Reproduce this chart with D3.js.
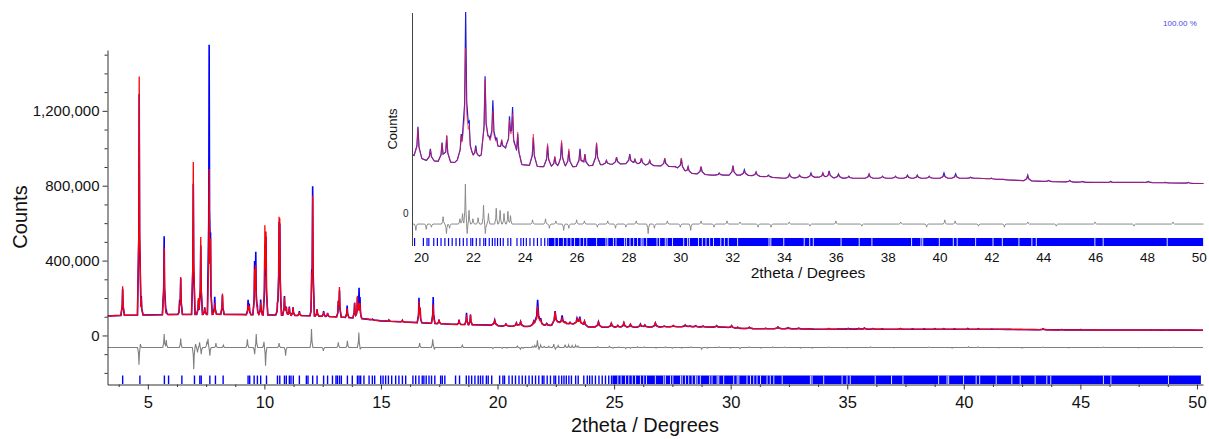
<!DOCTYPE html>
<html>
<head>
<meta charset="utf-8">
<script src="https://cdn.jsdelivr.net/npm/d3@7"></script>
<style>
  body { margin: 0; background: #fff; }
  text { font-family: "Liberation Sans", Arial, sans-serif; }
</style>
</head>
<body>
<svg id="chart" width="1209" height="439"></svg>
<script>
// ---- data (2theta in degrees, counts in thousands) ----
var bgPos = [3.27, 4.0, 5.0, 6.0, 8.0, 9.0, 10.0, 11.0, 12.0, 13.0, 13.6, 14.2, 14.6, 15.0, 16.0, 17.0, 18.0, 19.0, 19.7, 20.2,
             21.3, 21.6, 22.2, 22.6, 23.0, 23.3, 23.6, 23.9, 24.6, 25.9, 27.0, 28.0, 29.0, 29.8, 30.3, 31.2, 32.5, 34.0, 35.3, 36.5,
             38.0, 40.0, 41.5, 43.0, 44.0, 46.0, 48.0, 50.26];
var bgK = [104, 108, 110, 112, 113, 112, 110, 108, 105, 100, 96, 90, 84, 78, 72, 66, 60, 57, 55, 50,
           48, 55, 53, 60, 60, 62, 55, 46, 44, 44, 46, 47, 45, 44, 38, 36, 36, 33, 34, 33,
           33, 33, 33, 31, 30, 29, 29, 28];

var peakPos = [3.92, 4.63, 4.72, 5.70, 5.79, 6.36, 6.41, 6.95, 7.17, 7.27, 7.44, 7.63, 7.69, 7.87, 8.20, 9.30, 9.35, 9.58, 9.63, 9.70,
               9.84, 10.02, 10.07, 10.56, 10.63, 10.66, 10.86, 10.94, 11.07, 11.23, 11.50, 12.03, 12.07, 12.26, 12.54, 12.71, 13.17, 13.22, 13.55, 13.87,
               13.99, 14.06, 14.10, 14.63, 15.34, 15.92, 16.63, 16.68, 17.24, 17.49, 18.35, 18.67, 18.84, 19.88,
               20.36, 20.81, 20.99, 21.55, 21.72, 21.86, 22.11, 22.47, 22.62, 22.77, 22.92, 23.11, 23.41, 23.53, 23.73, 24.33, 24.88, 25.16, 25.42, 25.70,
               26.13, 26.32, 26.77, 27.15, 27.54, 28.05, 28.25, 28.50, 28.82, 29.40, 30.04, 30.30, 30.80, 31.50, 32.03, 32.47, 32.92, 33.40, 34.21, 34.60,
               35.04, 35.50, 35.74, 36.10, 36.50, 37.28, 37.80, 38.30, 38.76, 39.14, 39.60, 40.17, 40.62, 41.20, 42.00, 42.47, 43.40, 44.20, 45.02, 45.50,
               46.60, 47.30, 48.05, 48.70, 49.60];
var obsK = [250, 1290, 210, 530, 140, 150, 300, 810, 190, 480, 150, 1525, 420, 206, 215, 183, 160, 352, 409, 150,
            192, 430, 480, 165, 500, 490, 210, 155, 155, 150, 130, 206, 775, 140, 130, 120, 165, 230, 160, 175,
            200, 233, 175, 87, 82, 80, 192, 130, 206, 85, 85, 121, 110, 82,
            61, 67, 73, 75, 190, 83, 64, 130, 73, 107, 71, 69, 88, 98, 75, 72, 64, 53, 67, 59,
            61, 56, 66, 50, 53, 56, 51, 52, 50, 52, 52, 44, 44, 38, 45, 41, 39, 36, 37, 36,
            38, 38, 40, 37, 35, 37, 35, 35, 36, 36, 35, 38, 37, 34, 33, 32, 36, 31, 31, 30,
            30, 29, 30, 29, 29];
var calcK = [263, 1383, 200, 470, 125, 140, 308, 926, 200, 526, 145, 858, 450, 176, 224, 160, 150, 320, 345, 140,
             176, 530, 491, 160, 521, 512, 205, 150, 150, 150, 125, 190, 729, 140, 125, 120, 160, 249, 145, 175,
             210, 155, 160, 85, 82, 80, 174, 130, 165, 85, 82, 110, 113, 80,
             60, 66, 74, 73, 156, 80, 62, 126, 72, 97, 70, 70, 85, 92, 77, 75, 66, 54, 69, 61,
             58, 55, 67, 50, 53, 55, 51, 52, 50, 52, 52, 44, 44, 38, 44, 40, 39, 36, 37, 36,
             37, 38, 39, 37, 35, 37, 35, 35, 36, 36, 35, 36, 36, 34, 33, 32, 36, 31, 31, 30,
             30, 29, 30, 29, 29];

// difference (obs - calc) spikes
var diffPos = [4.62, 4.68, 5.70, 5.79, 6.41, 6.97, 7.05, 7.13, 7.22, 7.29, 7.53, 7.58, 7.66, 7.92, 8.24, 9.27, 9.58, 9.65, 9.98, 10.05,
               10.63, 10.91, 12.02, 12.53, 13.17, 13.56, 14.05, 14.11, 16.66, 17.22, 17.29, 18.49, 19.80, 20.20, 20.40, 20.85, 20.98, 21.10, 21.50, 21.60,
               21.71, 21.78, 21.85, 22.00, 22.20, 22.41, 22.48, 22.60, 22.90, 23.05, 23.20, 23.35, 23.45, 24.30, 24.80, 24.95, 25.20, 25.50, 25.70, 26.00,
               26.30, 26.80, 27.20, 27.50, 27.90, 28.30, 28.76, 29.00, 29.50, 30.00, 30.40, 30.80, 31.30, 31.80, 32.30, 33.00, 33.50, 34.20, 35.00, 36.00,
               37.00, 38.50, 39.50, 40.20, 40.60, 41.50, 42.50, 43.40, 44.50, 46.00, 47.50, 49.00];
var diffK = [-92, 18, 71, 40, 48, -116, 18, -27, 27, -36, 27, 44, -44, 23, 12, 44, -36, 71, 30, -98,
             23, -44, 98, -18, 27, 36, 80, -10, 23, 44, -8, 12, -6, -5, -3, 7, -9, -4, 5, 10,
             38, -9, 13, 5, 6, 18, -9, 10, 15, 13, 10, 12, 8, 4, 5, -4, 3, -6, -4, 4,
             3, -3, 3, -4, -3, 3, -9, -4, 3, -3, -6, 3, -3, 3, 2, -3, -3, 2, -2, 3,
             -2, 2, -3, 4, 3, -2, -3, 2, -2, 2, -2, 2];

// reflection positions that can be told apart, then the dense band and its gaps
var reflPos = [3.92, 4.66, 5.71, 5.89, 6.46, 7.00, 7.23, 7.29, 7.66, 7.90, 8.23, 9.30, 9.37, 9.56, 9.70, 9.84, 10.09, 10.56, 10.66, 10.86,
               10.94, 11.07, 11.14, 11.24, 11.50, 11.80, 11.87, 12.07, 12.26, 12.54, 12.71, 12.92, 13.07, 13.13, 13.22, 13.30, 13.56, 13.77, 13.99, 14.06,
               14.13, 14.27, 14.49, 14.63, 14.73, 14.99, 15.09, 15.20, 15.32, 15.46, 15.63, 15.77, 15.92, 16.06, 16.37, 16.49, 16.63, 16.77, 16.84, 16.94,
               17.06, 17.17, 17.31, 17.56, 17.63, 17.74, 18.20, 18.37, 18.66, 18.77, 18.89, 19.03, 19.17, 19.27, 19.37, 19.52, 19.60, 19.75, 20.09, 20.23,
               20.30, 20.49, 20.63, 20.77, 20.92, 21.06, 21.20, 21.35, 21.49, 21.63, 21.77, 21.92, 21.99, 22.13, 22.27, 22.42, 22.49, 22.63, 22.75, 22.85,
               22.95, 23.06, 23.17, 23.35, 23.46, 23.70, 23.85, 23.95, 24.06, 24.20, 24.35, 24.49, 24.63, 24.77, 24.89];
var reflBand = [24.93, 50.17];
var reflGaps = [25.16, 25.30, 25.49, 25.63, 25.78, 25.92, 26.13, 26.27, 26.39, 26.77, 27.13, 27.20, 27.42, 27.52, 27.85, 27.92, 28.06, 28.20, 28.35, 28.49,
                28.56, 28.70, 29.10, 29.20, 29.42, 29.49, 29.70, 30.13, 30.28, 30.35, 30.70, 30.85, 30.99, 31.13, 31.28, 31.56, 31.70, 31.85, 32.21, 33.42,
                33.49, 33.99, 34.78, 34.99, 35.13, 36.20, 36.90, 37.39, 38.92, 39.28, 39.35, 39.99, 40.53, 40.68, 41.39, 42.06, 42.42, 43.06, 43.56, 43.73,
                45.99, 46.31, 48.78];

var xTicksMain = [5, 10, 15, 20, 25, 30, 35, 40, 45, 50];
var yTicksMain = [0, 400000, 800000, 1200000];
var xTicksInset = [20, 22, 24, 26, 28, 30, 32, 34, 36, 38, 40, 42, 44, 46, 48, 50];

// ---- layout ----
var diffOffsetMain = -64;   // thousands
var diffOffsetInset = -10.5;
var dw = 0.06, ds = 0.02;   // diff spike half widths

// sharp peaks at low angle, broader bumps higher up
function peakW(p) { return p < 19.5 ? 0.075 : 0.15; }
function peakS(p) { return p < 19.5 ? 0.018 : 0.04; }

var svg = d3.select('#chart');

function shape(d, w, s, sh) {
  d = Math.abs(d);
  if (d >= w) return 0;
  if (d <= s) return 1 - (1 - sh) * d / s;
  return sh * (w - d) / (w - s);
}

var bg = d3.scaleLinear().domain(bgPos).range(bgK);

// vertices of the profile: background knots plus each peak's corners
var xs = bgPos.slice();
peakPos.forEach(function(p){
  var w = peakW(p), s = peakS(p);
  [-w, -s, 0, s, w].forEach(function(o){ xs.push(+(p + o).toFixed(4)); });
});
xs = Array.from(new Set(xs)).sort(d3.ascending);

var profile = xs.map(function(x){
  var o = bg(x), c = bg(x);
  peakPos.forEach(function(p, i){
    var k = shape(x - p, peakW(p), peakS(p), 0.35);
    if (k > 0) {
      o += (obsK[i] - bg(p)) * k;
      c += (calcK[i] - bg(p)) * k;
    }
  });
  return {x: x, obs: o * 1000, calc: c * 1000};
});

var dxs = [3.27, 50.26];
diffPos.forEach(function(p){
  [-dw, -ds, 0, ds, dw].forEach(function(o){ dxs.push(+(p + o).toFixed(4)); });
});
dxs = Array.from(new Set(dxs)).sort(d3.ascending);
var diffLine = dxs.map(function(x){
  var v = 0;
  diffPos.forEach(function(p, i){ v += diffK[i] * shape(x - p, dw, ds, 0.35); });
  return {x: x, d: v * 1000};
});

// ---- main chart ----
var xMain = d3.scaleLinear().domain([3.27, 50.26]).range([107.5, 1203]);
var yMain = d3.scaleLinear().domain([-262000, 1525000]).range([384.5, 50]);

svg.append('clipPath').attr('id', 'clipMain')
   .append('rect').attr('x', 107.5).attr('y', 40).attr('width', 1096).attr('height', 345);

var gMain = svg.append('g').attr('clip-path', 'url(#clipMain)');

gMain.append('path').datum(profile)
     .attr('fill', 'none').attr('stroke', '#0000ff').attr('stroke-width', 1.6)
     .attr('d', d3.line().x(function(d){ return xMain(d.x); }).y(function(d){ return yMain(d.obs); }));
gMain.append('path').datum(profile)
     .attr('fill', 'none').attr('stroke', '#ff0000').attr('stroke-width', 1.3)
     .attr('d', d3.line().x(function(d){ return xMain(d.x); }).y(function(d){ return yMain(d.calc); }));
gMain.append('path').datum(diffLine)
     .attr('fill', 'none').attr('stroke', '#7f7f7f').attr('stroke-width', 1.1)
     .attr('d', d3.line().x(function(d){ return xMain(d.x); }).y(function(d){ return yMain(d.d + diffOffsetMain * 1000); }));

function drawRefl(g, x, y0, y1, sw) {
  g.selectAll('line.refl')
   .data(reflPos.filter(function(d){ return d >= x.domain()[0]; }))
   .enter().append('line').attr('class', 'refl')
   .attr('x1', function(d){ return x(d); }).attr('x2', function(d){ return x(d); })
   .attr('y1', y0).attr('y2', y1)
   .attr('stroke', '#0000ff').attr('stroke-width', sw);
  g.append('rect')
   .attr('x', x(reflBand[0])).attr('width', x(reflBand[1]) - x(reflBand[0]))
   .attr('y', y0).attr('height', y1 - y0).attr('fill', '#0000ff');
  g.selectAll('line.gap')
   .data(reflGaps).enter().append('line').attr('class', 'gap')
   .attr('x1', function(d){ return x(d); }).attr('x2', function(d){ return x(d); })
   .attr('y1', y0).attr('y2', y1)
   .attr('stroke', '#ffffff').attr('stroke-opacity', 0.85).attr('stroke-width', 1);
}
drawRefl(svg.append('g'), xMain, 375.5, 384, 1.4);

// axes
var yAxisMain = svg.append('g').attr('transform', 'translate(107.5,0)')
  .call(d3.axisLeft(yMain).tickValues(yTicksMain).tickSize(5).tickPadding(3).tickSizeOuter(0).tickFormat(d3.format(',')));
svg.append('g').attr('transform', 'translate(107.5,0)')
  .call(d3.axisLeft(yMain).tickValues(d3.range(-200000, 1500001, 100000).filter(function(v){ return v % 400000 !== 0; }))
        .tickSize(3).tickFormat(''))
  .call(function(g){ g.select('.domain').remove(); });

var xAxisMain = svg.append('g').attr('transform', 'translate(0,384.5)')
  .call(d3.axisBottom(xMain).tickValues(xTicksMain).tickSize(5).tickPadding(7).tickSizeOuter(0));
svg.append('g').attr('transform', 'translate(0,384.5)')
  .call(d3.axisBottom(xMain).tickValues(d3.range(3.75, 50.3, 1.25).filter(function(v){ return v % 5 !== 0; }))
        .tickSize(2.5).tickFormat(''))
  .call(function(g){ g.select('.domain').remove(); });

svg.selectAll('.domain').attr('stroke', '#333');
svg.selectAll('.tick line').attr('stroke', '#333');
yAxisMain.selectAll('text').attr('font-size', 15).attr('fill', '#111');
xAxisMain.selectAll('text').attr('font-size', 16.5).attr('fill', '#111');

svg.append('text').attr('transform', 'translate(27,217) rotate(-90)')
   .attr('text-anchor', 'middle').attr('font-size', 20).attr('fill', '#111').text('Counts');
svg.append('text').attr('x', 645).attr('y', 432)
   .attr('text-anchor', 'middle').attr('font-size', 20).attr('fill', '#111').text('2theta / Degrees');

// ---- inset ----
var xIn = d3.scaleLinear().domain([19.67, 50.16]).range([412.5, 1203]);
var yIn = d3.scaleLinear().domain([-31350, 190950]).range([246, 12]);

svg.append('clipPath').attr('id', 'clipInset')
   .append('rect').attr('x', 412.5).attr('y', 5).attr('width', 791).attr('height', 241);

var gIn = svg.append('g').attr('clip-path', 'url(#clipInset)');
gIn.append('path').datum(profile)
   .attr('fill', 'none').attr('stroke', '#1c1cd0').attr('stroke-width', 1.2)
   .attr('d', d3.line().x(function(d){ return xIn(d.x); }).y(function(d){ return yIn(d.obs); }));
gIn.append('path').datum(profile)
   .attr('fill', 'none').attr('stroke', '#ff1a3c').attr('stroke-width', 1).attr('stroke-opacity', 0.65)
   .attr('d', d3.line().x(function(d){ return xIn(d.x); }).y(function(d){ return yIn(d.calc); }));
gIn.append('path').datum(diffLine)
   .attr('fill', 'none').attr('stroke', '#8a8a8a').attr('stroke-width', 1)
   .attr('d', d3.line().x(function(d){ return xIn(d.x); }).y(function(d){ return yIn(d.d + diffOffsetInset * 1000); }));
drawRefl(gIn.append('g'), xIn, 238, 246, 1.2);

svg.append('line').attr('x1', 412.5).attr('x2', 412.5).attr('y1', 13).attr('y2', 246)
   .attr('stroke', '#444').attr('stroke-width', 1);

var yAxisIn = svg.append('g').attr('transform', 'translate(412.5,0)')
  .call(d3.axisLeft(yIn).tickValues([0]).tickSize(0).tickPadding(4));
yAxisIn.select('.domain').remove();
yAxisIn.selectAll('text').attr('font-size', 10).attr('fill', '#222');

var xAxisIn = svg.append('g').attr('transform', 'translate(0,246)')
  .call(d3.axisBottom(xIn).tickValues(xTicksInset).tickSize(0).tickPadding(6));
xAxisIn.select('.domain').remove();
xAxisIn.selectAll('text').attr('font-size', 13.5).attr('fill', '#111');

svg.append('text').attr('transform', 'translate(397,129) rotate(-90)')
   .attr('text-anchor', 'middle').attr('font-size', 13).attr('fill', '#111').text('Counts');
svg.append('text').attr('x', 808).attr('y', 278)
   .attr('text-anchor', 'middle').attr('font-size', 15.5).attr('fill', '#111').text('2theta / Degrees');
svg.append('text').attr('x', 1163).attr('y', 26)
   .attr('font-size', 8).attr('fill', '#4848e8').text('100.00 %');
</script>
</body>
</html>
